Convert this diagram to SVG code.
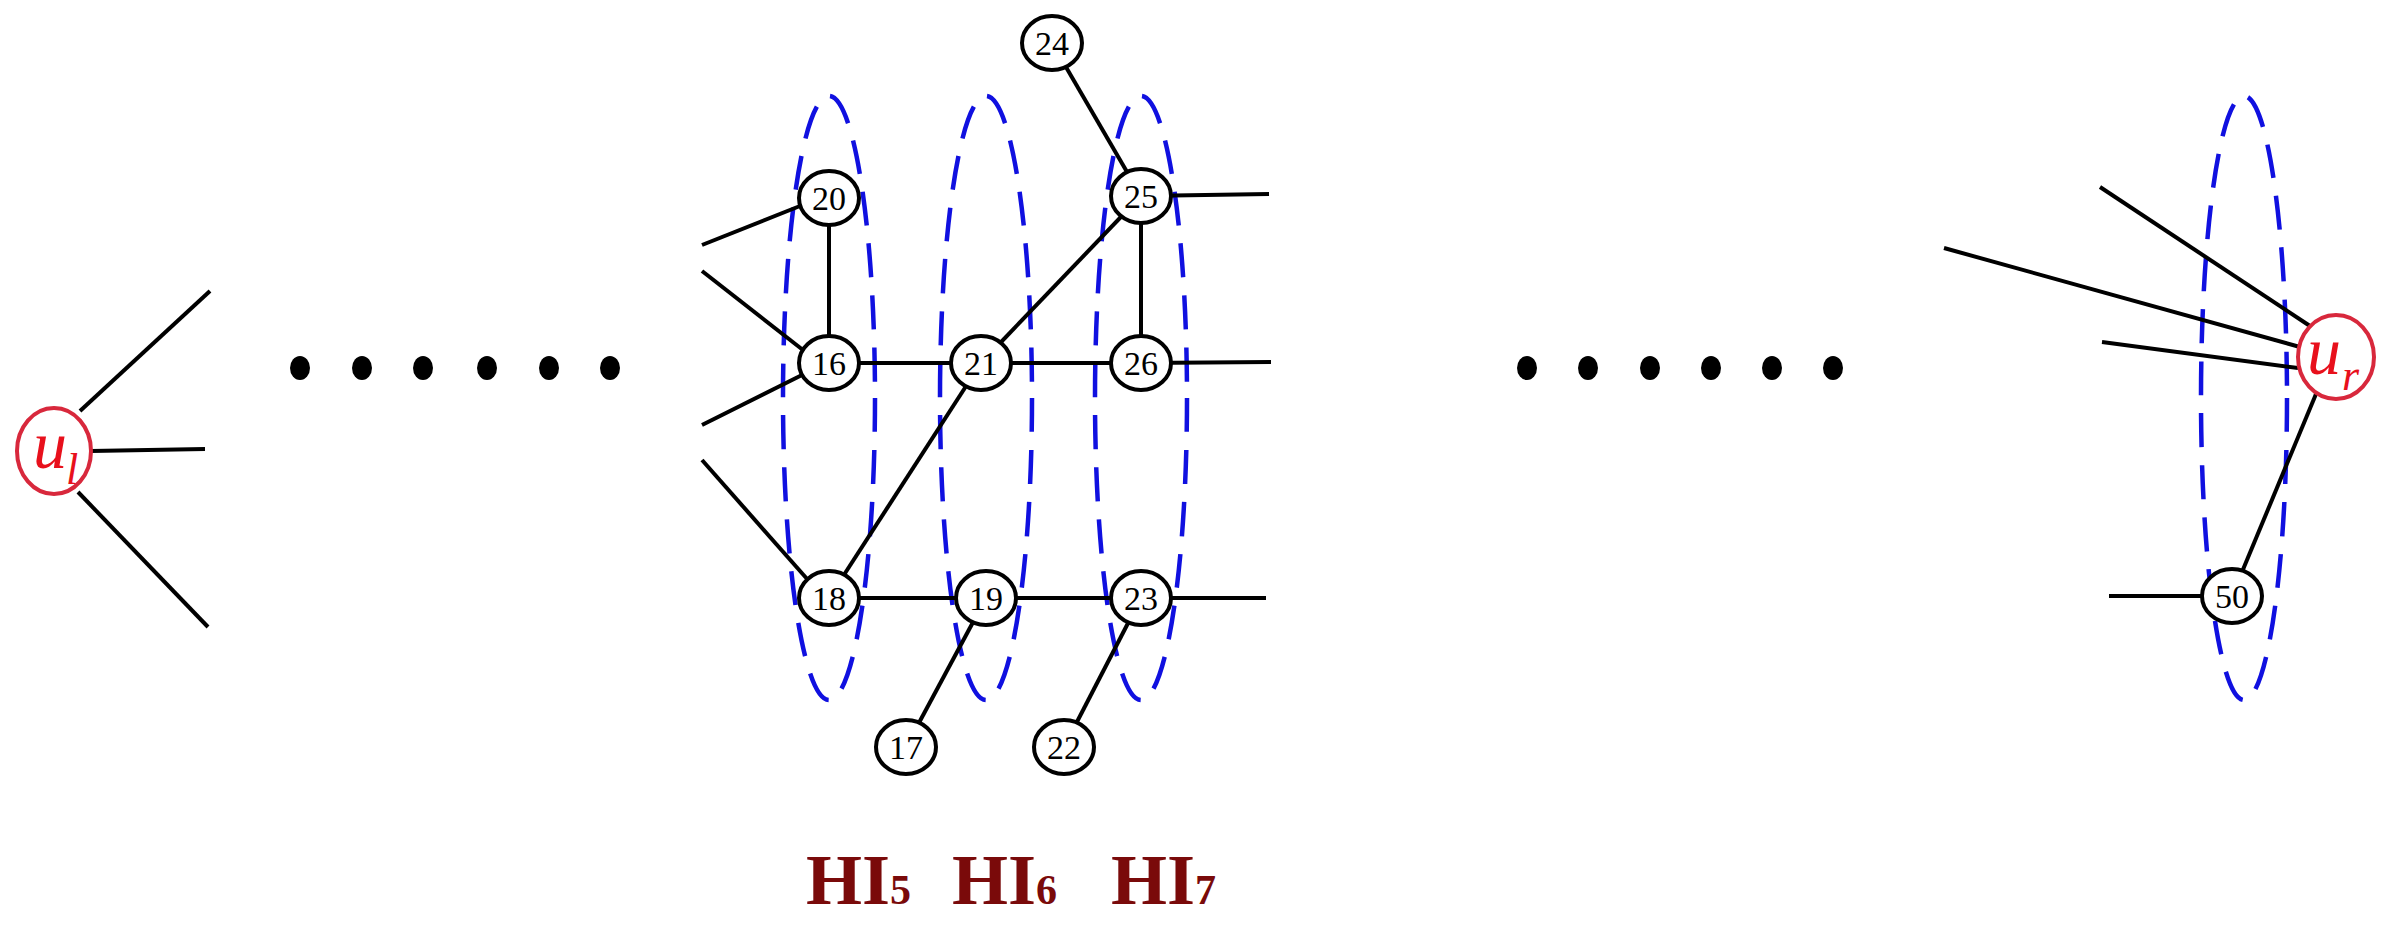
<svg xmlns="http://www.w3.org/2000/svg" width="2404" height="936" viewBox="0 0 2404 936">
<style>
.e{stroke:#000;stroke-width:4;fill:none}
.n{fill:#fff;stroke:#000;stroke-width:4}
.t{font-family:"Liberation Serif",serif;font-size:34px;text-anchor:middle;fill:#000}
.r{fill:#fff;stroke:#d8283c;stroke-width:4}
.rt{font-family:"Liberation Serif",serif;font-style:italic;fill:#e8101c}
.h{fill:none;stroke:#1010e0;stroke-width:4.5;stroke-dasharray:34 18}
.d{fill:#000}
.hl{font-family:"Liberation Serif",serif;font-weight:bold;font-size:72px;fill:#7a0a0a}
</style>
<rect width="2404" height="936" fill="#fff"/>
<g id="groups">
<ellipse class="h" cx="829" cy="398" rx="46" ry="302"/>
<ellipse class="h" cx="986" cy="398" rx="46" ry="302"/>
<ellipse class="h" cx="1141" cy="398" rx="46" ry="302"/>
<ellipse class="h" cx="2244" cy="398" rx="43" ry="302"/>
</g>
<g id="connectors">
<line class="e" x1="80" y1="411" x2="210" y2="291"/>
<line class="e" x1="91" y1="451" x2="205" y2="449"/>
<line class="e" x1="78" y1="492" x2="208" y2="627"/>
<line class="e" x1="702" y1="245" x2="800" y2="206"/>
<line class="e" x1="702" y1="271" x2="803" y2="350"/>
<line class="e" x1="702" y1="425" x2="802" y2="375"/>
<line class="e" x1="702" y1="460" x2="808" y2="580"/>
<line class="e" x1="829" y1="198" x2="829" y2="363"/>
<line class="e" x1="829" y1="363" x2="981" y2="363"/>
<line class="e" x1="981" y1="363" x2="1141" y2="363"/>
<line class="e" x1="981" y1="363" x2="1141" y2="196"/>
<line class="e" x1="981" y1="363" x2="829" y2="598"/>
<line class="e" x1="1141" y1="196" x2="1141" y2="363"/>
<line class="e" x1="1052" y1="43" x2="1141" y2="196"/>
<line class="e" x1="829" y1="598" x2="1141" y2="598"/>
<line class="e" x1="986" y1="598" x2="906" y2="747"/>
<line class="e" x1="1141" y1="598" x2="1064" y2="747"/>
<line class="e" x1="1141" y1="196" x2="1269" y2="194"/>
<line class="e" x1="1141" y1="363" x2="1271" y2="362"/>
<line class="e" x1="1141" y1="598" x2="1266" y2="598"/>
<line class="e" x1="2100" y1="187" x2="2310" y2="326"/>
<line class="e" x1="1944" y1="248" x2="2300" y2="347"/>
<line class="e" x1="2102" y1="342" x2="2298" y2="368"/>
<line class="e" x1="2316" y1="394" x2="2232" y2="596"/>
<line class="e" x1="2109" y1="596" x2="2232" y2="596"/>
</g>
<g id="dots">
<ellipse class="d" cx="300" cy="368" rx="10" ry="12"/>
<ellipse class="d" cx="362" cy="368" rx="10" ry="12"/>
<ellipse class="d" cx="423" cy="368" rx="10" ry="12"/>
<ellipse class="d" cx="487" cy="368" rx="10" ry="12"/>
<ellipse class="d" cx="549" cy="368" rx="10" ry="12"/>
<ellipse class="d" cx="610" cy="368" rx="10" ry="12"/>
<ellipse class="d" cx="1527" cy="368" rx="10" ry="12"/>
<ellipse class="d" cx="1588" cy="368" rx="10" ry="12"/>
<ellipse class="d" cx="1650" cy="368" rx="10" ry="12"/>
<ellipse class="d" cx="1711" cy="368" rx="10" ry="12"/>
<ellipse class="d" cx="1772" cy="368" rx="10" ry="12"/>
<ellipse class="d" cx="1833" cy="368" rx="10" ry="12"/>
</g>
<g id="ul"><ellipse class="r" cx="54" cy="451" rx="37" ry="43"/><text class="rt" x="33" y="468" font-size="68">u</text><text class="rt" x="66" y="484" font-size="44">l</text></g>
<g id="ur"><ellipse class="r" cx="2336" cy="357" rx="38" ry="42"/><text class="rt" x="2307" y="374" font-size="68">u</text><text class="rt" x="2342" y="390" font-size="44">r</text></g>
<g id="n20"><ellipse class="n" cx="829" cy="198" rx="30" ry="27"/><text class="t" x="829" y="210">20</text></g>
<g id="n16"><ellipse class="n" cx="829" cy="363" rx="30" ry="27"/><text class="t" x="829" y="375">16</text></g>
<g id="n21"><ellipse class="n" cx="981" cy="363" rx="30" ry="27"/><text class="t" x="981" y="375">21</text></g>
<g id="n26"><ellipse class="n" cx="1141" cy="363" rx="30" ry="27"/><text class="t" x="1141" y="375">26</text></g>
<g id="n25"><ellipse class="n" cx="1141" cy="196" rx="30" ry="27"/><text class="t" x="1141" y="208">25</text></g>
<g id="n24"><ellipse class="n" cx="1052" cy="43" rx="30" ry="27"/><text class="t" x="1052" y="55">24</text></g>
<g id="n18"><ellipse class="n" cx="829" cy="598" rx="30" ry="27"/><text class="t" x="829" y="610">18</text></g>
<g id="n19"><ellipse class="n" cx="986" cy="598" rx="30" ry="27"/><text class="t" x="986" y="610">19</text></g>
<g id="n23"><ellipse class="n" cx="1141" cy="598" rx="30" ry="27"/><text class="t" x="1141" y="610">23</text></g>
<g id="n17"><ellipse class="n" cx="906" cy="747" rx="30" ry="27"/><text class="t" x="906" y="759">17</text></g>
<g id="n22"><ellipse class="n" cx="1064" cy="747" rx="30" ry="27"/><text class="t" x="1064" y="759">22</text></g>
<g id="n50"><ellipse class="n" cx="2232" cy="596" rx="30" ry="27"/><text class="t" x="2232" y="608">50</text></g>
<g id="labels">
<text class="hl" x="806" y="904">HI<tspan font-size="42">5</tspan></text>
<text class="hl" x="952" y="904">HI<tspan font-size="42">6</tspan></text>
<text class="hl" x="1111" y="904">HI<tspan font-size="42">7</tspan></text>
</g>
</svg>
